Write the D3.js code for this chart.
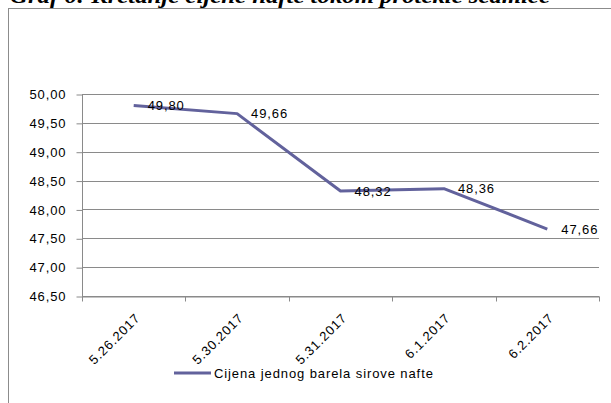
<!DOCTYPE html>
<html lang="en">
<head>
    <meta charset="UTF-8">
    <title>Graf 6</title>
    <script src="https://d3js.org/d3.v7.min.js"></script>
    <style>
        body { margin: 0; background: #fff; }
        svg { display: block; }
        .axis text { font-family: "Liberation Sans", Arial, sans-serif; font-size: 13px; letter-spacing: 0.9px; fill: #000; }
        .grid line { stroke: #8a8a8a; stroke-width: 1; }
        .lbl { font-family: "Liberation Sans", Arial, sans-serif; font-size: 13px; letter-spacing: 0.9px; fill: #000; }
    </style>
</head>
<body>
    <div id="chart"></div>
    <script>
        // data
        const dates = ["5.26.2017", "5.30.2017", "5.31.2017", "6.1.2017", "6.2.2017"];
        const prices = [49.80, 49.66, 48.32, 48.36, 47.66];
        const yTicks = [46.5, 47, 47.5, 48, 48.5, 49, 49.5, 50];
        const seriesName = "Cijena jednog barela sirove nafte";
        const title = "Graf 6: Kretanje cijene nafte tokom protekle sedmice";

        const W = 611, H = 403;
        const plot = { left: 82, right: 599, top: 94, bottom: 296 };
        const lineColor = "#62629c";
        const fmt = v => d3.format(".2f")(v).replace(".", ",");

        const svg = d3.select("#chart").append("svg")
            .attr("width", W).attr("height", H);

        // title, cut off at the top like in the original page
        svg.append("text")
           .attr("x", 10).attr("y", 3)
           .attr("textLength", 540)
           .attr("lengthAdjust", "spacingAndGlyphs")
           .style("font-family", "'Liberation Serif', 'Times New Roman', serif")
           .style("font-weight", "bold").style("font-style", "italic")
           .style("font-size", "20px")
           .text(title);

        // chart frame
        svg.append("rect")
           .attr("x", 8.5).attr("y", 8.5)
           .attr("width", W + 10).attr("height", H + 10)
           .attr("fill", "none").attr("stroke", "#8c8c8c");

        const x = d3.scaleBand().domain(dates).range([plot.left, plot.right]);
        const y = d3.scaleLinear().domain([46.5, 50]).range([plot.bottom, plot.top]);

        // gridlines
        svg.append("g").attr("class", "grid")
           .selectAll("line").data(yTicks).join("line")
           .attr("x1", plot.left).attr("x2", plot.right)
           .attr("y1", d => Math.round(y(d)) + 0.5).attr("y2", d => Math.round(y(d)) + 0.5);

        // y axis
        const yAxis = svg.append("g").attr("class", "axis")
           .attr("transform", `translate(${plot.left + 0.5},0.5)`)
           .call(d3.axisLeft(y).tickValues(yTicks).tickFormat(fmt).tickSize(6).tickPadding(10).tickSizeOuter(0));
        yAxis.selectAll("line, path").attr("stroke", "#8a8a8a");
        yAxis.select(".domain").attr("d", `M0,${Math.round(plot.top)}V${Math.round(plot.bottom)}`);

        // x axis: labels at band centres, ticks at band edges
        const xAxis = svg.append("g").attr("class", "axis")
           .attr("transform", `translate(0,${Math.round(plot.bottom) + 0.5})`)
           .call(d3.axisBottom(x).tickSize(0).tickSizeOuter(0));
        xAxis.select(".domain").attr("stroke", "#8a8a8a");
        xAxis.selectAll(".tick text")
           .attr("text-anchor", "end")
           .attr("y", 0)
           .attr("dy", "0.35em")
           .attr("transform", "translate(4,19) rotate(-45)");
        xAxis.selectAll(".edge").data(dates.map(d => x(d)).concat([x(dates[dates.length - 1]) + x.bandwidth()]))
           .join("line").attr("class", "edge")
           .attr("x1", d => Math.round(d) + 0.5).attr("x2", d => Math.round(d) + 0.5)
           .attr("y1", 0).attr("y2", 5).attr("stroke", "#8a8a8a");

        // series line
        const cx = d => x(d) + x.bandwidth() / 2;
        svg.append("path")
           .datum(prices)
           .attr("fill", "none").attr("stroke", lineColor).attr("stroke-width", 3)
           .attr("stroke-linejoin", "round")
           .attr("d", d3.line().x((d, i) => cx(dates[i])).y(d => y(d)));

        // data labels
        svg.append("g").selectAll("text").data(prices).join("text")
           .attr("class", "lbl")
           .attr("x", (d, i) => cx(dates[i]) + 14)
           .attr("y", d => y(d))
           .attr("dy", "0.35em")
           .text(fmt);

        // legend
        const lg = svg.append("g").attr("transform", "translate(174,373)");
        lg.append("line").attr("x1", 0).attr("x2", 37).attr("y1", 0).attr("y2", 0)
          .attr("stroke", lineColor).attr("stroke-width", 3);
        lg.append("text").attr("class", "lbl").attr("x", 40).attr("dy", "0.35em").text(seriesName);
    </script>
</body>
</html>
